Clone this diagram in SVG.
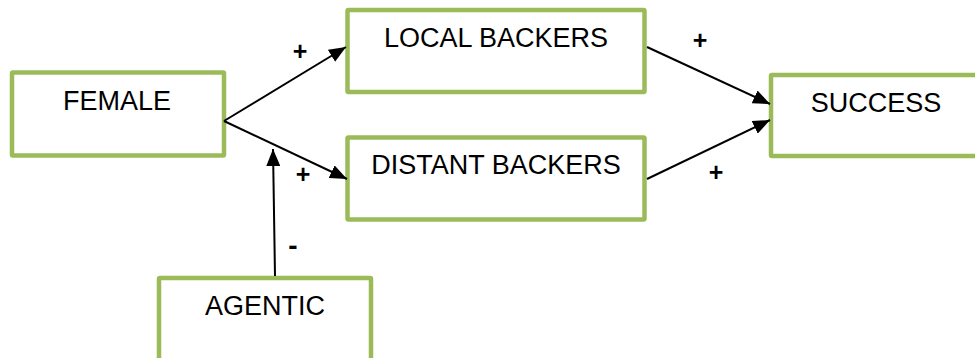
<svg xmlns="http://www.w3.org/2000/svg" width="975" height="358" viewBox="0 0 975 358">
<style>
.box{fill:#ffffff;stroke:#9BBB59;stroke-width:4.5}
.lbl{font-family:"Liberation Sans",Arial,sans-serif;font-size:27px;fill:#000;text-anchor:middle}
.sign{font-family:"Liberation Sans",Arial,sans-serif;font-size:25px;font-weight:bold;fill:#000;text-anchor:middle}
.conn{stroke:#000;stroke-width:2;fill:none;marker-end:url(#arr)}
</style>
<defs>
<marker id="arr" markerUnits="userSpaceOnUse" markerWidth="18" markerHeight="14" refX="17" refY="7" orient="auto">
<path d="M0,0 L17,7 L0,14 z" fill="#000"/>
</marker>
</defs>
<rect width="975" height="358" fill="#fff"/>
<g id="female"><rect class="box" x="12" y="72.5" width="212" height="83" rx="1"/><text class="lbl" x="117" y="110">FEMALE</text></g>
<g id="local"><rect class="box" x="347.5" y="10" width="297" height="82" rx="1"/><text class="lbl" x="496" y="47">LOCAL BACKERS</text></g>
<g id="distant"><rect class="box" x="347.5" y="137.5" width="297" height="82" rx="1"/><text class="lbl" x="496" y="174">DISTANT BACKERS</text></g>
<g id="success"><rect class="box" x="771" y="75" width="230" height="81" rx="1"/><text class="lbl" x="876" y="112">SUCCESS</text></g>
<g id="agentic"><rect class="box" x="159" y="278" width="212" height="110" rx="1"/><text class="lbl" x="265" y="315">AGENTIC</text></g>
<g id="connectors">
<line class="conn" x1="224" y1="121" x2="346" y2="47"/>
<line class="conn" x1="224" y1="121" x2="347" y2="179"/>
<line class="conn" x1="275" y1="276" x2="273" y2="149"/>
<line class="conn" x1="647" y1="47" x2="770" y2="104"/>
<line class="conn" x1="647" y1="179" x2="770" y2="120"/>
<text class="sign" x="300" y="60">+</text>
<text class="sign" x="700" y="49">+</text>
<text class="sign" x="303" y="183">+</text>
<text class="sign" x="716" y="181">+</text>
<text class="sign" x="293" y="255" style="font-size:28px">-</text>
</g>
</svg>
